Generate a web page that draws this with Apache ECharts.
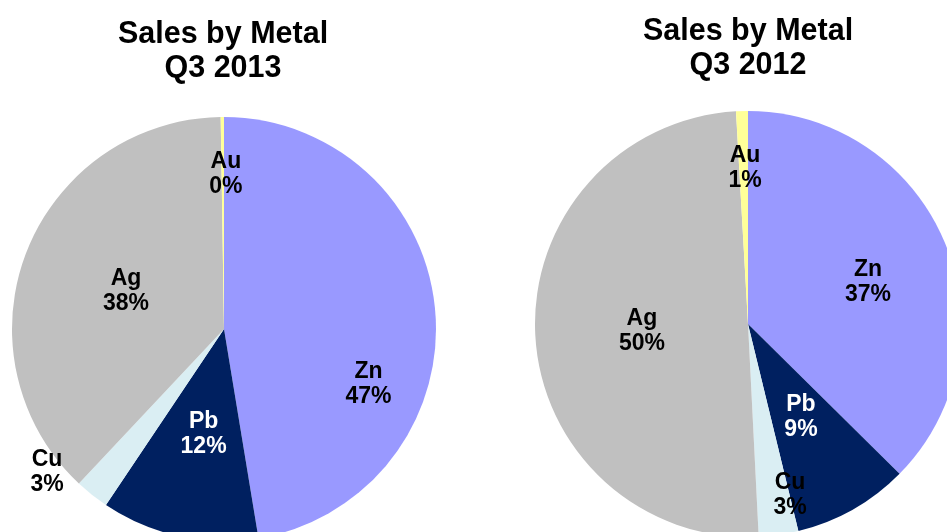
<!DOCTYPE html>
<html>
<head>
<meta charset="utf-8">
<script src="https://cdn.jsdelivr.net/npm/echarts@6/dist/echarts.min.js"></script>
<style>
html,body{margin:0;padding:0;background:#fff;}
#chart{width:947px;height:532px;}
</style>
</head>
<body>
<div id="chart"></div>
<script>
// ---- data ----
var metals = ['Zn', 'Pb', 'Cu', 'Ag', 'Au'];
var sales2013 = [47.4, 12.0, 2.6, 37.75, 0.25];
var sales2012 = [37.4, 8.8, 3.0, 49.9, 0.9];
var titles = ['Sales by Metal\nQ3 2013', 'Sales by Metal\nQ3 2012'];

// ---- style / layout ----
var colors = ['#9999FF', '#002060', '#DAEEF3', '#C0C0C0', '#FFFF99'];
var labelColors = ['#000', '#fff', '#000', '#000', '#000'];
var pieCenters = [[224, 329], [748, 324]];
var pieRadius = [212, 213];
// label placement in pie polar terms: [angle clockwise from 12 o'clock (deg), fraction of radius]
var labelPolar = [
  [[111, 0.73], [191, 0.505], [231, 1.074], [291, 0.495], [0.7, 0.73]],
  [[70.7, 0.597], [150.5, 0.505], [166.2, 0.827], [266.2, 0.499], [358.9, 0.733]]
];

var font = '"Liberation Sans", Arial, Helvetica, sans-serif';

function buildData(values) {
  return metals.map(function (m, i) {
    return {
      name: m,
      value: values[i],
      itemStyle: { color: colors[i] },
      label: { color: labelColors[i] }
    };
  });
}

function makeSeries(values, idx) {
  return {
    type: 'pie',
    center: pieCenters[idx],
    radius: pieRadius[idx],
    startAngle: 90,
    clockwise: true,
    avoidLabelOverlap: false,
    silent: true,
    animation: false,
    itemStyle: { borderWidth: 0 },
    label: {
      show: true,
      position: 'inside',
      fontFamily: font,
      fontWeight: 'bold',
      fontSize: 23,
      lineHeight: 25,
      align: 'center',
      formatter: function (p) {
        return p.name + '\n' + Math.round(p.percent) + '%';
      }
    },
    labelLine: { show: false },
    labelLayout: function (params) {
      var d = params.dataIndex;
      var pol = labelPolar[idx][d];
      var a = pol[0] * Math.PI / 180;
      var r = pol[1] * pieRadius[idx];
      return {
        x: pieCenters[idx][0] + r * Math.sin(a),
        y: pieCenters[idx][1] - r * Math.cos(a),
        align: 'center',
        verticalAlign: 'middle'
      };
    },
    emphasis: { disabled: true },
    data: buildData(values)
  };
}

var chart = echarts.init(document.getElementById('chart'), null, { renderer: 'canvas' });
chart.setOption({
  backgroundColor: '#ffffff',
  animation: false,
  title: [
    {
      text: titles[0], left: 223, top: 18, padding: 0, textAlign: 'center',
      textStyle: { fontFamily: font, fontWeight: 'bold', fontSize: 30.5, lineHeight: 34, color: '#000' }
    },
    {
      text: titles[1], left: 748, top: 15, padding: 0, textAlign: 'center',
      textStyle: { fontFamily: font, fontWeight: 'bold', fontSize: 30.5, lineHeight: 34, color: '#000' }
    }
  ],
  series: [makeSeries(sales2013, 0), makeSeries(sales2012, 1)]
});
</script>
</body>
</html>
